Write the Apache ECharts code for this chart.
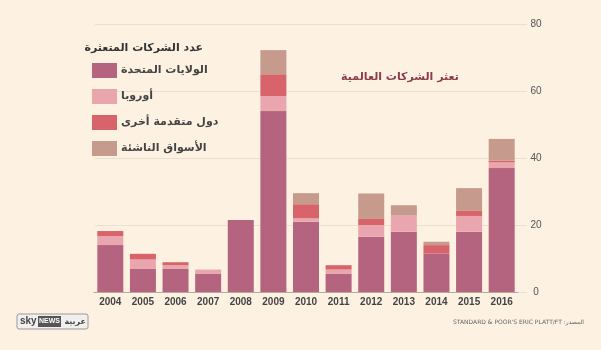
<!DOCTYPE html>
<html>
<head>
<meta charset="utf-8">
<script src="https://cdn.jsdelivr.net/npm/echarts@6/dist/echarts.min.js"></script>
<style>
html,body{margin:0;padding:0;background:#fdf1e2;}
#c{width:601px;height:350px;}
</style>
</head>
<body>
<div id="c"></div>
<script>
const years = ['2004','2005','2006','2007','2008','2009','2010','2011','2012','2013','2014','2015','2016'];
const usValues = [14, 7, 7, 5.5, 21.5, 54, 21, 5.5, 16.5, 18, 11.5, 18, 37];
const europeValues = [2.7, 2.7, 1, 1.2, 0, 4.5, 1, 1.2, 3.5, 4.8, 0, 4.7, 1.7];
const otherValues = [1.5, 1.7, 0.9, 0, 0, 6.5, 4.2, 1.3, 1.8, 0, 2.5, 1.5, 0.5];
const emergingValues = [0, 0, 0, 0, 0, 7.2, 3.3, 0, 7.6, 3.1, 1, 6.8, 6.5];
const seriesNames = ['الولايات المتحدة', 'أوروبا', 'دول متقدمة أخرى', 'الأسواق الناشئة'];
const yTicks = {min: 0, max: 80, interval: 20};

const colors = ['#b5647f', '#eaa6ae', '#d8636a', '#c69a8c'];
const AR = '"DejaVu Sans", "Noto Sans", sans-serif';
const chart = echarts.init(document.getElementById('c'));
const allData = [usValues, europeValues, otherValues, emergingValues];

chart.setOption({
  backgroundColor: '#fdf1e2',
  animation: false,
  color: colors,
  legend: {
    orient: 'vertical', left: 92, top: 63, padding: 0,
    itemWidth: 25, itemHeight: 15, itemGap: 11,
    icon: 'rect', selectedMode: false,
    textStyle: {fontFamily: AR, fontSize: 11, fontWeight: 'bold', color: '#444', padding: [0, 0, 0, -1]},
    data: seriesNames
  },
  grid: [
    {left: 94, right: 83, top: 24, bottom: 58},
    {left: 95, right: 74, top: 24, bottom: 58}
  ],
  xAxis: [
    {type: 'category', gridIndex: 0, data: years,
     axisLine: {show: true, lineStyle: {color: '#b3aaa0', width: 1}},
     axisTick: {show: false},
     axisLabel: {fontFamily: '"Liberation Sans", Arial, sans-serif', fontSize: 10, fontWeight: 'bold', color: '#444', margin: 5}},
    {type: 'category', gridIndex: 1, data: years, show: false}
  ],
  yAxis: [
    {type: 'value', gridIndex: 0, min: yTicks.min, max: yTicks.max, interval: yTicks.interval, show: false},
    {type: 'value', gridIndex: 1, min: yTicks.min, max: yTicks.max, interval: yTicks.interval, position: 'right',
     axisLine: {show: false}, axisTick: {show: false},
     splitLine: {show: true, lineStyle: {color: '#ebdfcf', width: 1}},
     axisLabel: {fontFamily: '"Liberation Sans", Arial, sans-serif', fontSize: 10, color: '#555', align: 'center', margin: 9}}
  ],
  series: seriesNames.map((n, i) => ({
    name: n, type: 'bar', stack: 'total', xAxisIndex: 0, yAxisIndex: 0,
    barWidth: 26, data: allData[i], itemStyle: {color: colors[i]}
  })),
  graphic: [
    {type: 'text', style: {text: 'عدد الشركات المتعثرة', x: 203, y: 48, textAlign: 'right', textVerticalAlign: 'middle', fill: '#333', font: 'bold 11px ' + AR}},
    {type: 'text', style: {text: 'تعثر الشركات العالمية', x: 400, y: 77, textAlign: 'center', textVerticalAlign: 'middle', fill: '#8c3b4d', font: 'bold 11px ' + AR}},
    {type: 'text', style: {text: "STANDARD & POOR'S ERIC PLATT/FT :المصدر", x: 584, y: 322, textAlign: 'right', textVerticalAlign: 'middle', fill: '#666', font: '6px ' + AR}},
    {type: 'rect', shape: {x: 17, y: 314, width: 71, height: 15, r: 2}, style: {fill: '#f2f0ee', stroke: '#999', lineWidth: 1}},
    {type: 'text', style: {text: 'sky', x: 20, y: 321.5, textVerticalAlign: 'middle', fill: '#444', font: 'bold 10px "Liberation Sans", Arial'}},
    {type: 'rect', shape: {x: 38, y: 316, width: 23, height: 11}, style: {fill: '#555'}},
    {type: 'text', style: {text: 'NEWS', x: 49.5, y: 321.5, textAlign: 'center', textVerticalAlign: 'middle', fill: '#fff', font: 'bold 7px "Liberation Sans", Arial'}},
    {type: 'text', style: {text: 'عربية', x: 86, y: 321.5, textAlign: 'right', textVerticalAlign: 'middle', fill: '#444', font: 'bold 8px ' + AR}}
  ]
});
</script>
</body>
</html>
